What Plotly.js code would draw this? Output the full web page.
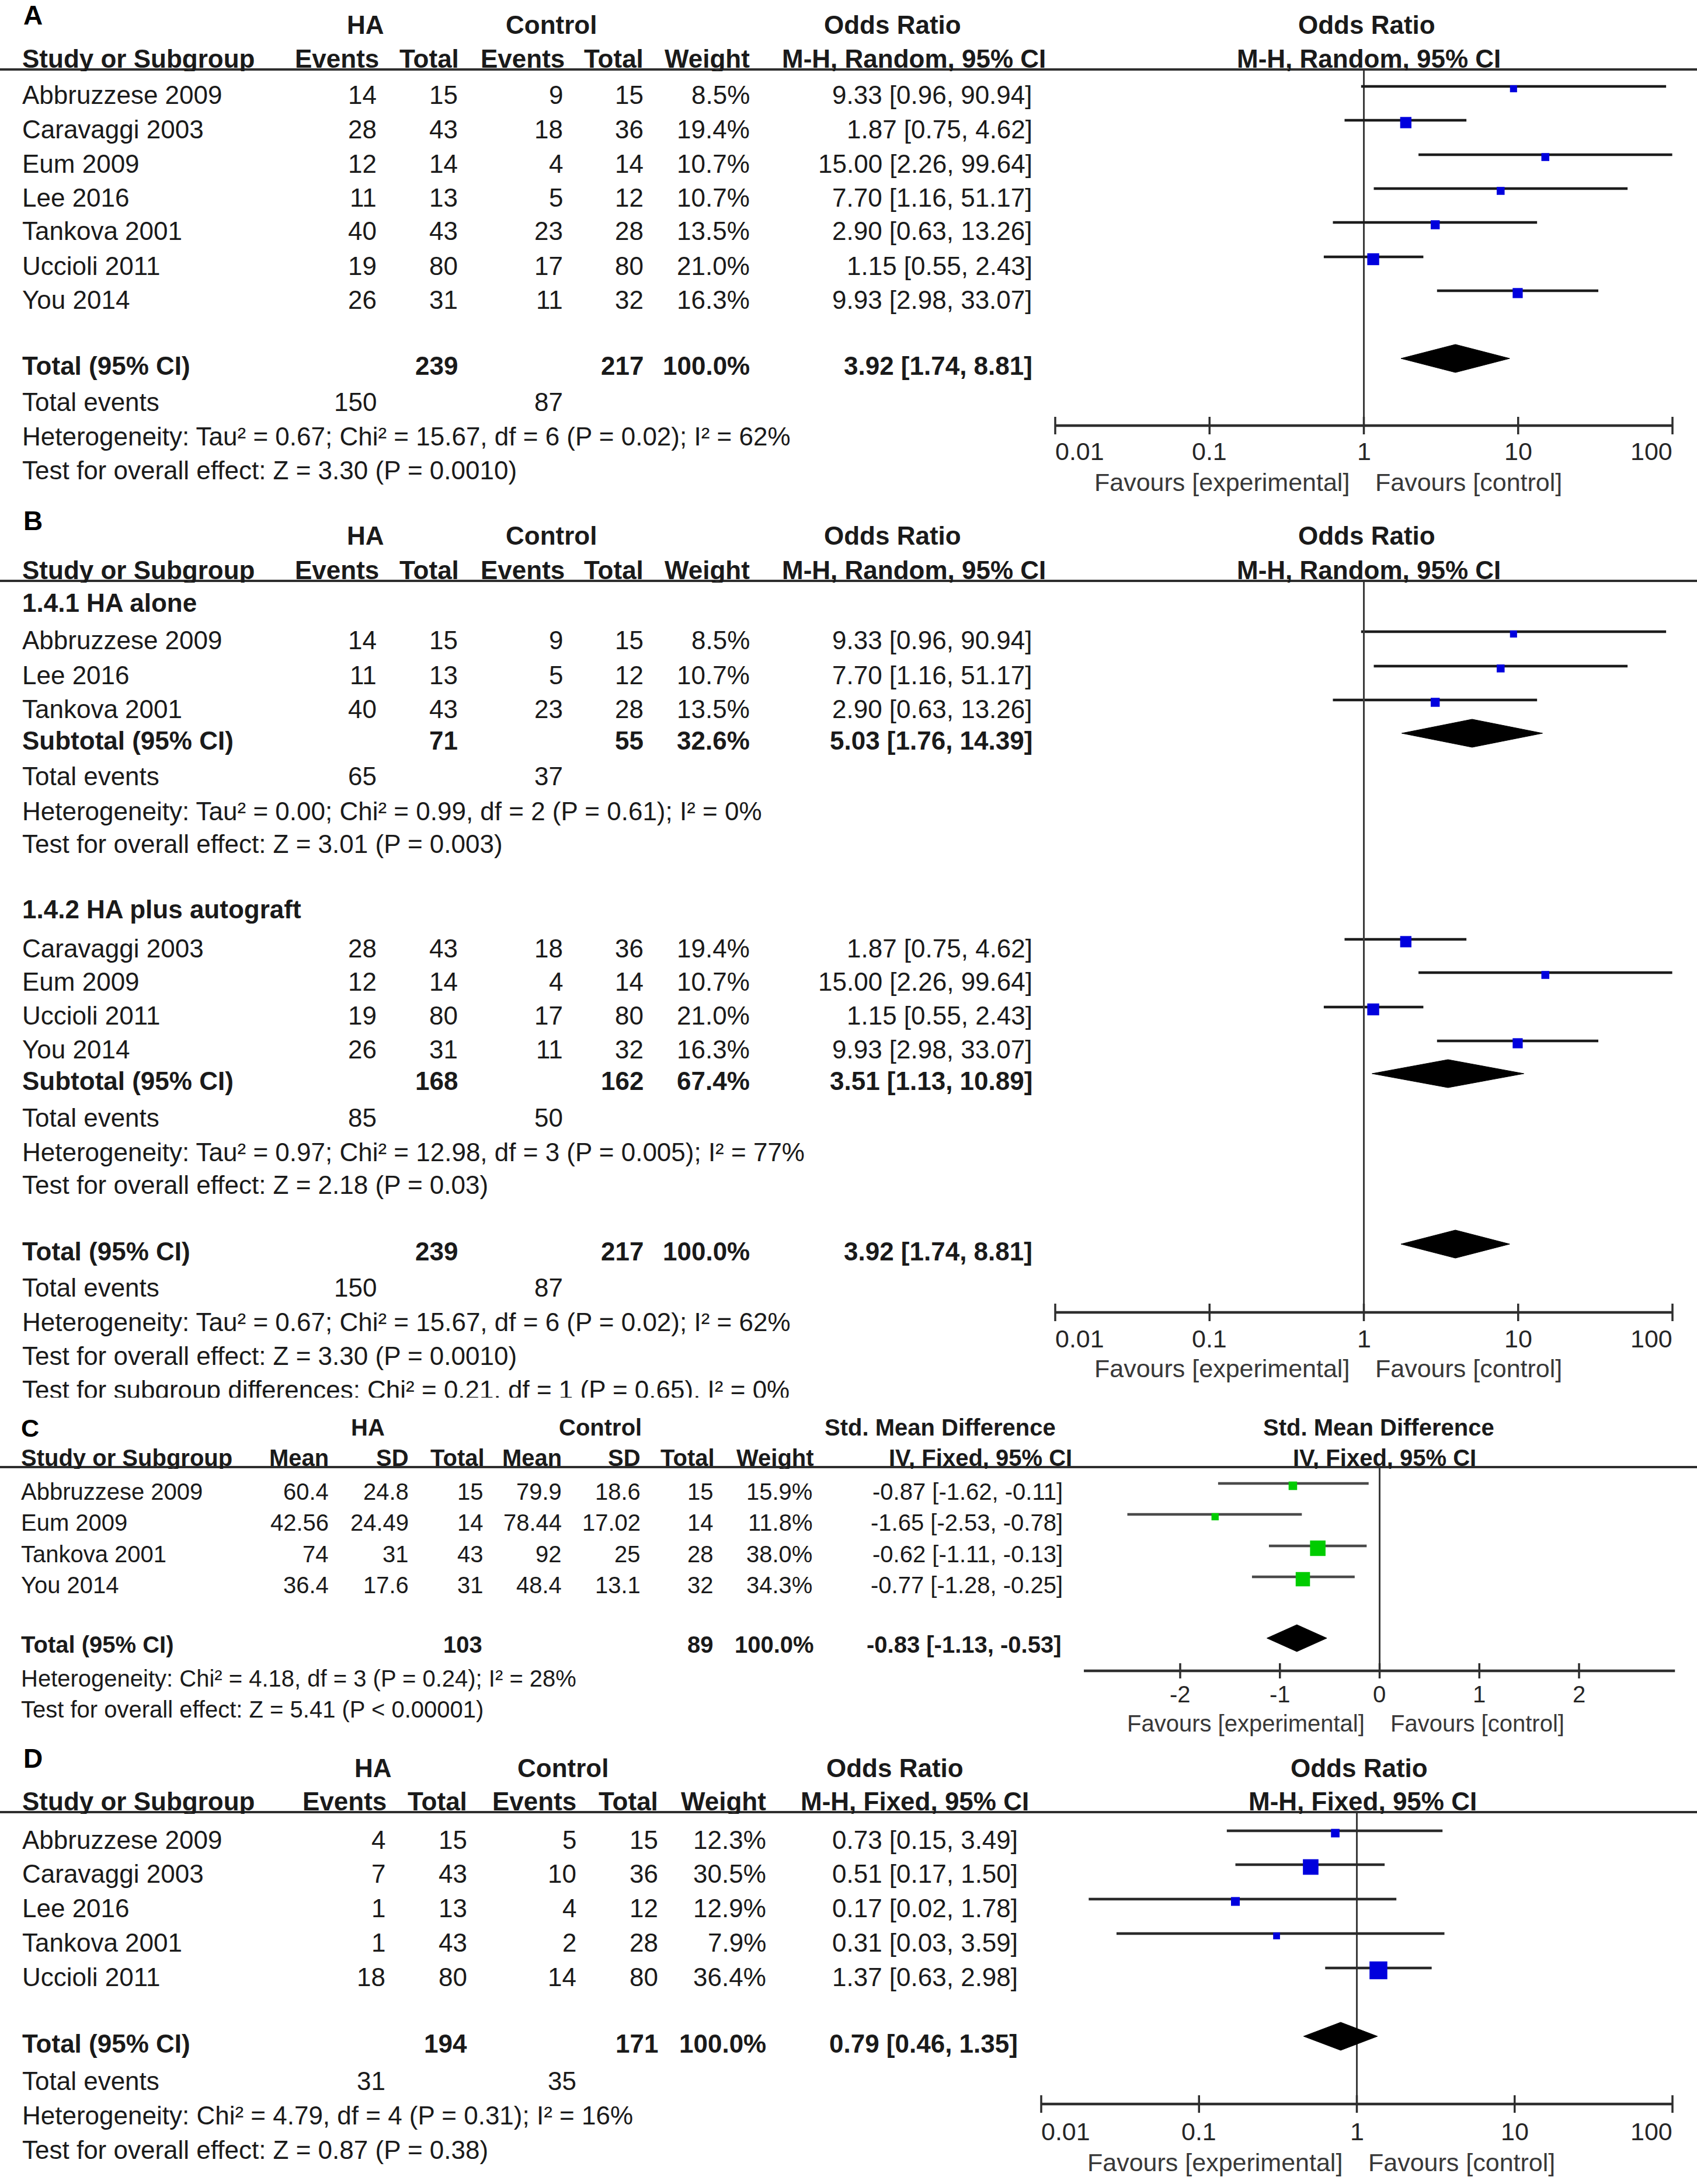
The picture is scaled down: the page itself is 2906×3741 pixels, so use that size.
<!DOCTYPE html>
<html><head><meta charset="utf-8">
<script src="https://cdn.plot.ly/plotly-3.0.1.min.js"></script>
<style>html,body{margin:0;padding:0;background:#fff}#chart{width:2906px;height:3741px}</style>
</head><body><div id="chart"></div>
<script>
// ================= DATA =================
// Panel A / B (odds ratio, M-H random)
const studiesA   = ["Abbruzzese 2009","Caravaggi 2003","Eum 2009","Lee 2016","Tankova 2001","Uccioli 2011","You 2014"];
const haEventsA  = [14, 28, 12, 11, 40, 19, 26];
const haTotalA   = [15, 43, 14, 13, 43, 80, 31];
const ctEventsA  = [9, 18, 4, 5, 23, 17, 11];
const ctTotalA   = [15, 36, 14, 12, 28, 80, 32];
const weightA    = [8.5, 19.4, 10.7, 10.7, 13.5, 21.0, 16.3];
const orA        = [9.33, 1.87, 15.00, 7.70, 2.90, 1.15, 9.93];
const loA        = [0.96, 0.75, 2.26, 1.16, 0.63, 0.55, 2.98];
const hiA        = [90.94, 4.62, 99.64, 51.17, 13.26, 2.43, 33.07];
const totalA     = [239, 217, 100.0, 3.92, 1.74, 8.81];   // haTotal, ctTotal, weight, OR, lo, hi
const totalEventsA = [150, 87];
const hetA  = "Heterogeneity: Tau² = 0.67; Chi² = 15.67, df = 6 (P = 0.02); I² = 62%";
const testA = "Test for overall effect: Z = 3.30 (P = 0.0010)";

// Panel B subgroups
const subgroupNamesB = ["1.4.1 HA alone", "1.4.2 HA plus autograft"];
const subgroupB1 = ["Abbruzzese 2009","Lee 2016","Tankova 2001"];
const subgroupB2 = ["Caravaggi 2003","Eum 2009","Uccioli 2011","You 2014"];
const subHaTotalB = [71, 168];
const subCtTotalB = [55, 162];
const subWeightB  = [32.6, 67.4];
const subOrB      = [5.03, 3.51];
const subLoB      = [1.76, 1.13];
const subHiB      = [14.39, 10.89];
const subHaEventsB = [65, 85];
const subCtEventsB = [37, 50];
const subHetB = ["Heterogeneity: Tau² = 0.00; Chi² = 0.99, df = 2 (P = 0.61); I² = 0%",
                 "Heterogeneity: Tau² = 0.97; Chi² = 12.98, df = 3 (P = 0.005); I² = 77%"];
const subTestB = ["Test for overall effect: Z = 3.01 (P = 0.003)",
                  "Test for overall effect: Z = 2.18 (P = 0.03)"];
const subgroupDiffB = "Test for subgroup differences: Chi² = 0.21, df = 1 (P = 0.65), I² = 0%";

// Panel C (std. mean difference, IV fixed)
const studiesC = ["Abbruzzese 2009","Eum 2009","Tankova 2001","You 2014"];
const haMeanC  = [60.4, 42.56, 74, 36.4];
const haSdC    = [24.8, 24.49, 31, 17.6];
const haTotalC = [15, 14, 43, 31];
const ctMeanC  = [79.9, 78.44, 92, 48.4];
const ctSdC    = [18.6, 17.02, 25, 13.1];
const ctTotalC = [15, 14, 28, 32];
const weightC  = [15.9, 11.8, 38.0, 34.3];
const smdC     = [-0.87, -1.65, -0.62, -0.77];
const loC      = [-1.62, -2.53, -1.11, -1.28];
const hiC      = [-0.11, -0.78, -0.13, -0.25];
const totalC   = [103, 89, 100.0, -0.83, -1.13, -0.53];
const hetC  = "Heterogeneity: Chi² = 4.18, df = 3 (P = 0.24); I² = 28%";
const testC = "Test for overall effect: Z = 5.41 (P &lt; 0.00001)";

// Panel D (odds ratio, M-H fixed)
const studiesD  = ["Abbruzzese 2009","Caravaggi 2003","Lee 2016","Tankova 2001","Uccioli 2011"];
const haEventsD = [4, 7, 1, 1, 18];
const haTotalD  = [15, 43, 13, 43, 80];
const ctEventsD = [5, 10, 4, 2, 14];
const ctTotalD  = [15, 36, 12, 28, 80];
const weightD   = [12.3, 30.5, 12.9, 7.9, 36.4];
const orD       = [0.73, 0.51, 0.17, 0.31, 1.37];
const loD       = [0.15, 0.17, 0.02, 0.03, 0.63];
const hiD       = [3.49, 1.50, 1.78, 3.59, 2.98];
const totalD    = [194, 171, 100.0, 0.79, 0.46, 1.35];
const totalEventsD = [31, 35];
const hetD  = "Heterogeneity: Chi² = 4.79, df = 4 (P = 0.31); I² = 16%";
const testD = "Test for overall effect: Z = 0.87 (P = 0.38)";

// Axis ticks
const orTicks = [0.01, 0.1, 1, 10, 100];
const orTickLabels = ["0.01", "0.1", "1", "10", "100"];
const smdTicks = [-2, -1, 0, 1, 2];
const smdTickLabels = ["-2", "-1", "0", "1", "2"];
const smdAxisExtent = [-2.966, 2.962];

// ================= DRAWING =================
const W = 2906, H = 3741;
const FONT = 'Liberation Sans, Arial, Helvetica, sans-serif';
const TXT = '#1a1a1a';
const GREY = '#2e2e2e';
const BLUE = '#0000dd';
const GREEN = '#00cc00';
const FS = 44;
const ann = [], traces = [], shapes = [];

function T(x, y, s, a, o) {
  o = o || {};
  ann.push({xref:'paper', yref:'paper', x:x/W, y:1-y/H,
    text: o.bold ? '<b>'+s+'</b>' : s, showarrow:false,
    xanchor:a||'left', yanchor:'middle', borderpad:0, borderwidth:0,
    font:{family:FONT, size:o.size||FS, color:o.color||TXT}});
}
function hline(y) {
  shapes.push({type:'line', xref:'paper', yref:'paper', x0:0, x1:1, y0:1-y/H, y1:1-y/H,
    line:{color:GREY, width:4}});
}
function clipBox(x0, x1, yTop, h) {
  ann.push({xref:'paper', yref:'paper', x:x0/W, y:1-yTop/H, xanchor:'left', yanchor:'top',
    width:x1-x0, height:h, text:'&nbsp;', showarrow:false, bgcolor:'#ffffff',
    borderpad:0, borderwidth:0, font:{size:4}});
}
const fmt2 = v => v.toFixed(2);
const ciText = (e,l,h) => fmt2(e)+' ['+fmt2(l)+', '+fmt2(h)+']';
const pct = w => w.toFixed(1)+'%';

function logAxis(pxLo, pxHi, lo, hi, pad) {
  const dec = (pxHi-pxLo)/(Math.log10(hi)-Math.log10(lo));
  return {type:'log', range:[Math.log10(lo)-pad, Math.log10(hi)+pad],
    domain:[(pxLo-pad*dec)/W, (pxHi+pad*dec)/W], visible:false, anchor:'y', fixedrange:true};
}
function linAxis(pxA, pxB, a, b, rLo, rHi, pad) {
  const u = (pxB-pxA)/(b-a);
  const px = v => pxA + (v-a)*u;
  return {type:'linear', range:[rLo-pad, rHi+pad],
    domain:[px(rLo-pad)/W, px(rHi+pad)/W], visible:false, anchor:'y', fixedrange:true};
}

function forestAxis(xa, isLog, ticks, labels, ext, refVal, topY, axisY, tickY, favY, tickHalf, fs) {
  traces.push({type:'scatter', mode:'lines', x:[refVal, refVal], y:[topY, axisY], xaxis:xa, yaxis:'y',
    line:{color:'#3a3a3a', width:3}, hoverinfo:'skip'});
  traces.push({type:'scatter', mode:'lines', x:[ext[0], ext[1]], y:[axisY, axisY], xaxis:xa, yaxis:'y',
    line:{color:GREY, width:4.5}, hoverinfo:'skip'});
  const tx = [], ty = [];
  ticks.forEach(t => { tx.push(t, t, null); ty.push(axisY-tickHalf, axisY+tickHalf, null); });
  traces.push({type:'scatter', mode:'lines', x:tx, y:ty, xaxis:xa, yaxis:'y',
    line:{color:GREY, width:3.5}, hoverinfo:'skip'});
  ticks.forEach((t, i) => {
    let anchor = 'center';
    if (isLog && i === 0) anchor = 'left';
    if (isLog && i === ticks.length-1) anchor = 'right';
    ann.push({xref:xa, yref:'paper', x: isLog ? Math.log10(t) : t, y:1-tickY/H, text:labels[i],
      showarrow:false, xanchor:anchor, yanchor:'middle', borderpad:0, borderwidth:0,
      font:{family:FONT, size:fs, color:'#262626'}});
  });
  const rv = isLog ? Math.log10(refVal) : refVal;
  ann.push({xref:xa, yref:'paper', x:rv, y:1-favY/H, text:'Favours [experimental]', showarrow:false,
    xanchor:'right', yanchor:'middle', xshift:-25, borderpad:0, borderwidth:0,
    font:{family:FONT, size:fs, color:'#383838'}});
  ann.push({xref:xa, yref:'paper', x:rv, y:1-favY/H, text:'Favours [control]', showarrow:false,
    xanchor:'left', yanchor:'middle', xshift:19, borderpad:0, borderwidth:0,
    font:{family:FONT, size:fs, color:'#383838'}});
}
// rows: text-centre y of each study; line drawn at y-lineOff, square centred at y-markOff
function forestRows(xa, ys, est, lo, hi, wts, color, sa, sb, lineColor, lineOff, markOff) {
  const lx = [], ly = [];
  ys.forEach((y, i) => { lx.push(lo[i], hi[i], null); ly.push(y-lineOff, y-lineOff, null); });
  traces.push({type:'scatter', mode:'lines', x:lx, y:ly, xaxis:xa, yaxis:'y',
    line:{color:lineColor, width:4.5}, opacity:1, hoverinfo:'skip'});
  traces.push({type:'scatter', mode:'markers', x:est, y:ys.map(y => y-markOff), xaxis:xa, yaxis:'y', cliponaxis:false,
    opacity:1, marker:{symbol:'square', color:color, opacity:1, size:wts.map(w => sa + sb*w), line:{width:0}}, hoverinfo:'skip'});
}
function diamond(xa, y, est, lo, hi, hh) {
  traces.push({type:'scatter', mode:'lines', x:[lo, est, hi, est, lo], y:[y, y-hh, y, y+hh, y],
    xaxis:xa, yaxis:'y', fill:'toself', fillcolor:'#000000', line:{color:'#000000', width:1}, hoverinfo:'skip'});
}

// ---------- OR panels helpers ----------
const hdrAB = {ha:626, ct:944, or:1529, fOr:2340, hE:649, hN:786, cE:967, cN:1102, wt:1284, ci:1791, fCi:2344};
const colAB = {name:38, hE:645, hN:784, cE:964, cN:1102, wt:1284, ci:1768};
const hdrD  = {ha:639, ct:964, or:1533, fOr:2327, hE:662, hN:800, cE:987, cN:1127, wt:1312, ci:1762, fCi:2333};
const colD  = {name:38, hE:660, hN:800, cE:987, cN:1127, wt:1312, ci:1743};

function headerOR(letter, letterY, h1Y, h2Y, lineY, hd, method, refPx) {
  T(40, letterY, letter, 'left', {bold:true, size:46, color:'#000'});
  T(hd.ha, h1Y, 'HA', 'center', {bold:true});
  T(hd.ct, h1Y, 'Control', 'center', {bold:true});
  T(hd.or, h1Y, 'Odds Ratio', 'center', {bold:true});
  T(hd.fOr, h1Y, 'Odds Ratio', 'center', {bold:true});
  T(38, h2Y, 'Study or Subgroup', 'left', {bold:true});
  T(hd.hE, h2Y, 'Events', 'right', {bold:true});
  T(hd.hN, h2Y, 'Total', 'right', {bold:true});
  T(hd.cE, h2Y, 'Events', 'right', {bold:true});
  T(hd.cN, h2Y, 'Total', 'right', {bold:true});
  T(hd.wt, h2Y, 'Weight', 'right', {bold:true});
  T(hd.ci, h2Y, method, 'right', {bold:true});
  T(hd.fCi, h2Y, method, 'center', {bold:true});
  clipBox(0, refPx-3, lineY+2.5, 11);
  clipBox(refPx+3, W, lineY+2.5, 11);
  hline(lineY);
}
function rowOR(col, y, name, hE, hN, cE, cN, w, e, l, h) {
  T(col.name, y, name, 'left');
  T(col.hE, y, String(hE), 'right');
  T(col.hN, y, String(hN), 'right');
  T(col.cE, y, String(cE), 'right');
  T(col.cN, y, String(cN), 'right');
  T(col.wt, y, pct(w), 'right');
  T(col.ci, y, ciText(e, l, h), 'right');
}
function totalRowOR(col, y, label, hN, cN, w, e, l, h) {
  T(col.name, y, label, 'left', {bold:true});
  T(col.hN, y, String(hN), 'right', {bold:true});
  T(col.cN, y, String(cN), 'right', {bold:true});
  T(col.wt, y, pct(w), 'right', {bold:true});
  T(col.ci, y, ciText(e, l, h), 'right', {bold:true});
}
function eventsRow(col, y, a, b) {
  T(col.name, y, 'Total events', 'left');
  T(col.hE, y, String(a), 'right');
  T(col.cE, y, String(b), 'right');
}
const sizeOR = [6.5, 0.66];
const DOFF = 12, DHALF = 24;
const OR_LINE = '#1c1c1c';

// ---------- Panel A ----------
(function(){
  const rows = [163, 221, 280, 338, 396, 455, 513];
  headerOR('A', 26, 43, 100, 119, hdrAB, 'M-H, Random, 95% CI', 2335);
  studiesA.forEach((s, i) => rowOR(colAB, rows[i], s, haEventsA[i], haTotalA[i], ctEventsA[i], ctTotalA[i], weightA[i], orA[i], loA[i], hiA[i]));
  totalRowOR(colAB, 626, 'Total (95% CI)', totalA[0], totalA[1], totalA[2], totalA[3], totalA[4], totalA[5]);
  eventsRow(colAB, 688, totalEventsA[0], totalEventsA[1]);
  T(38, 748, hetA, 'left');
  T(38, 806, testA, 'left');
  forestAxis('x', true, orTicks, orTickLabels, [0.01, 100], 1, 119, 729, 773, 826, 15, 43);
  forestRows('x', rows, orA, loA, hiA, weightA, BLUE, sizeOR[0], sizeOR[1], OR_LINE, 15, 11);
  diamond('x', 626-DOFF, totalA[3], totalA[4], totalA[5], DHALF);
})();

// ---------- Panel B ----------
(function(){
  const idx = n => studiesA.indexOf(n);
  headerOR('B', 892, 918, 976, 995, hdrAB, 'M-H, Random, 95% CI', 2335);
  const groups = [subgroupB1, subgroupB2];
  const gY = [1033, 1558];
  const rowsY = [[1097, 1156, 1214], [1624, 1681, 1740, 1798]];
  const subY = [1268, 1851], evY = [1329, 1914], hetY = [1389, 1973], testY = [1446, 2030];
  groups.forEach((g, k) => {
    T(38, gY[k], subgroupNamesB[k], 'left', {bold:true});
    const ys = rowsY[k];
    const est = [], lo = [], hi = [], wt = [];
    g.forEach((name, j) => {
      const i = idx(name);
      rowOR(colAB, ys[j], name, haEventsA[i], haTotalA[i], ctEventsA[i], ctTotalA[i], weightA[i], orA[i], loA[i], hiA[i]);
      est.push(orA[i]); lo.push(loA[i]); hi.push(hiA[i]); wt.push(weightA[i]);
    });
    totalRowOR(colAB, subY[k], 'Subtotal (95% CI)', subHaTotalB[k], subCtTotalB[k], subWeightB[k], subOrB[k], subLoB[k], subHiB[k]);
    eventsRow(colAB, evY[k], subHaEventsB[k], subCtEventsB[k]);
    T(38, hetY[k], subHetB[k], 'left');
    T(38, testY[k], subTestB[k], 'left');
    forestRows('x2', ys, est, lo, hi, wt, BLUE, sizeOR[0], sizeOR[1], OR_LINE, 15, 11);
    diamond('x2', subY[k]-DOFF, subOrB[k], subLoB[k], subHiB[k], DHALF);
  });
  totalRowOR(colAB, 2143, 'Total (95% CI)', totalA[0], totalA[1], totalA[2], totalA[3], totalA[4], totalA[5]);
  eventsRow(colAB, 2205, totalEventsA[0], totalEventsA[1]);
  T(38, 2264, hetA, 'left');
  T(38, 2322, testA, 'left');
  T(38, 2380, subgroupDiffB, 'left');
  clipBox(0, 1700, 2394, 26);
  forestAxis('x2', true, orTicks, orTickLabels, [0.01, 100], 1, 995, 2248, 2293, 2344, 15, 43);
  diamond('x2', 2143-DOFF, totalA[3], totalA[4], totalA[5], DHALF);
})();

// ---------- Panel C ----------
(function(){
  const fs = 40;
  const o = {size:fs}, ob = {size:fs, bold:true};
  const col = {name:36, hM:563, hS:700, hN:828, cM:962, cS:1097, cN:1222, wt:1391, ci:1820};
  T(36, 2446, 'C', 'left', {bold:true, size:43, color:'#000'});
  T(630, 2445, 'HA', 'center', ob);
  T(1028, 2445, 'Control', 'center', ob);
  T(1610, 2445, 'Std. Mean Difference', 'center', ob);
  T(2361, 2445, 'Std. Mean Difference', 'center', ob);
  T(36, 2497, 'Study or Subgroup', 'left', ob);
  T(563, 2497, 'Mean', 'right', ob);
  T(700, 2497, 'SD', 'right', ob);
  T(830, 2497, 'Total', 'right', ob);
  T(962, 2497, 'Mean', 'right', ob);
  T(1097, 2497, 'SD', 'right', ob);
  T(1224, 2497, 'Total', 'right', ob);
  T(1394, 2497, 'Weight', 'right', ob);
  T(1836, 2497, 'IV, Fixed, 95% CI', 'right', ob);
  T(2371, 2497, 'IV, Fixed, 95% CI', 'center', ob);
  clipBox(0, 2359, 2515.5, 10);
  clipBox(2365, W, 2515.5, 10);
  hline(2513);
  const rows = [2555, 2608, 2662, 2715];
  studiesC.forEach((s, i) => {
    const y = rows[i];
    T(col.name, y, s, 'left', o);
    T(col.hM, y, String(haMeanC[i]), 'right', o);
    T(col.hS, y, String(haSdC[i]), 'right', o);
    T(col.hN, y, String(haTotalC[i]), 'right', o);
    T(col.cM, y, String(ctMeanC[i]), 'right', o);
    T(col.cS, y, String(ctSdC[i]), 'right', o);
    T(col.cN, y, String(ctTotalC[i]), 'right', o);
    T(col.wt, y, pct(weightC[i]), 'right', o);
    T(col.ci, y, ciText(smdC[i], loC[i], hiC[i]), 'right', o);
  });
  T(col.name, 2817, 'Total (95% CI)', 'left', ob);
  T(826, 2817, String(totalC[0]), 'right', ob);
  T(col.cN, 2817, String(totalC[1]), 'right', ob);
  T(1394, 2817, pct(totalC[2]), 'right', ob);
  T(1818, 2817, ciText(totalC[3], totalC[4], totalC[5]), 'right', ob);
  T(36, 2875, hetC, 'left', o);
  T(36, 2928, testC, 'left', o);
  forestAxis('x3', false, smdTicks, smdTickLabels, smdAxisExtent, 0, 2513, 2862, 2902, 2952, 13, fs);
  forestRows('x3', rows, smdC, loC, hiC, weightC, GREEN, 6, 0.54, '#4a4a4a', 14, 10);
  diamond('x3', 2817-11, totalC[3], totalC[4], totalC[5], 23);
})();

// ---------- Panel D ----------
(function(){
  const rows = [3151, 3209, 3268, 3327, 3386];
  headerOR('D', 3012, 3028, 3085, 3104, hdrD, 'M-H, Fixed, 95% CI', 2324);
  studiesD.forEach((s, i) => rowOR(colD, rows[i], s, haEventsD[i], haTotalD[i], ctEventsD[i], ctTotalD[i], weightD[i], orD[i], loD[i], hiD[i]));
  totalRowOR(colD, 3500, 'Total (95% CI)', totalD[0], totalD[1], totalD[2], totalD[3], totalD[4], totalD[5]);
  eventsRow(colD, 3564, totalEventsD[0], totalEventsD[1]);
  T(38, 3623, hetD, 'left');
  T(38, 3682, testD, 'left');
  forestAxis('x4', true, orTicks, orTickLabels, [0.01, 100], 1, 3104, 3604, 3651, 3704, 15, 43);
  forestRows('x4', rows, orD, loD, hiD, weightD, BLUE, sizeOR[0], sizeOR[1], '#2a2a2a', 15, 11);
  diamond('x4', 3500-DOFF, totalD[3], totalD[4], totalD[5], DHALF);
})();

const layout = {
  width: W, height: H,
  margin: {l:0, r:0, t:0, b:0, pad:0},
  paper_bgcolor: '#ffffff', plot_bgcolor: 'rgba(0,0,0,0)',
  showlegend: false,
  xaxis:  logAxis(1807, 2864, 0.01, 100, 0.04),
  xaxis2: logAxis(1807, 2864, 0.01, 100, 0.04),
  xaxis3: linAxis(2021, 2704, -2, 2, smdAxisExtent[0], smdAxisExtent[1], 0.04),
  xaxis4: logAxis(1783, 2864, 0.01, 100, 0.04),
  yaxis: {range:[H, 0], domain:[0, 1], visible:false, fixedrange:true, anchor:'x'},
  annotations: ann,
  shapes: shapes
};
Plotly.newPlot('chart', traces.map(t => Object.assign({showlegend:false}, t)), layout, {staticPlot:true, displayModeBar:false});
</script></body></html>
